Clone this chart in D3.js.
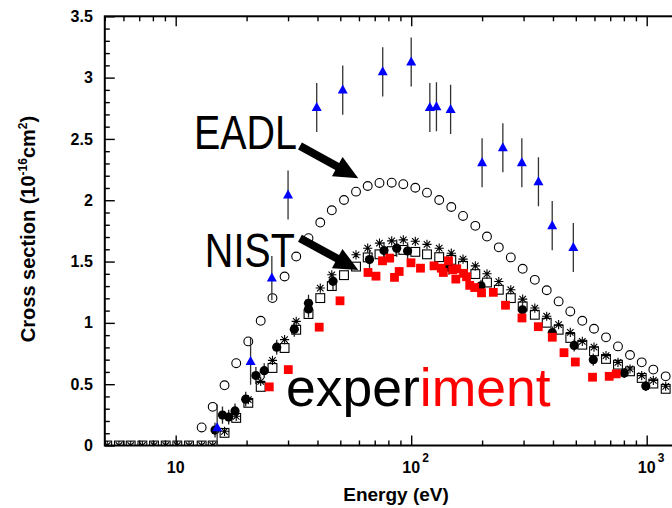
<!DOCTYPE html>
<html>
<head>
<meta charset="utf-8">
<script src="https://d3js.org/d3.v7.min.js"></script>
<style>
  body { margin: 0; background: #fff; }
  text { font-family: "Liberation Sans", Arial, Helvetica, sans-serif; }
</style>
</head>
<body>
<svg id="chart" width="672" height="508"></svg>
<script>
// EADL (open circles)
const eadlE = [12.89, 14.36, 16.12, 18.07, 20.34, 22.96, 25.76, 29.0, 32.49, 36.64, 41.11, 46.01, 51.84, 58.31,
  65.36, 73.34, 82.64, 92.58, 104.1, 116.7, 131.5, 148.0, 166.0, 187.2, 209.8, 235.5, 264.8, 297.4, 334.9,
  376.2, 422.7, 473.8, 532.8, 597.4, 671.8, 755.2, 849.4, 952.4, 1067, 1204];
const eadlV = [0.147, 0.315, 0.491, 0.671, 0.849, 1.017, 1.202, 1.378, 1.541, 1.691, 1.818, 1.918, 2.002, 2.070,
  2.116, 2.141, 2.143, 2.131, 2.102, 2.062, 2.002, 1.945, 1.872, 1.791, 1.704, 1.616, 1.534, 1.441, 1.351,
  1.266, 1.175, 1.093, 1.017, 0.952, 0.882, 0.808, 0.738, 0.678, 0.619, 0.564];

// NIST grid (open squares + asterisks)
const nistE = [5.12, 5.74, 6.44, 7.22, 8.09, 9.07, 10.16, 11.39, 12.89, 14.36, 16.12, 18.07, 20.34, 22.96, 25.76,
  29.0, 32.49, 36.64, 41.11, 46.01, 51.84, 58.31, 65.36, 73.34, 82.64, 92.58, 104.1, 116.7, 131.5, 148.0, 166.0,
  187.2, 209.8, 235.5, 264.8, 297.4, 334.9, 376.2, 422.7, 473.8, 532.8, 597.4, 671.8, 755.2, 849.4, 952.4, 1067, 1204];
const squareV = [0, 0, 0, 0, 0, 0, 0, 0, 0, 0, 0.103, 0.225, 0.348, 0.478, 0.632, 0.795, 0.944, 1.072, 1.202, 1.300,
  1.389, 1.459, 1.534, 1.559, 1.585, 1.595, 1.579, 1.559, 1.536, 1.514, 1.465, 1.398, 1.329, 1.270, 1.202, 1.134,
  1.066, 1.001, 0.944, 0.877, 0.822, 0.768, 0.706, 0.659, 0.605, 0.551, 0.505, 0.462];
const starV = [0, 0, 0, 0, 0, 0, 0, 0, 0, 0, 0.116, 0.238, 0.374, 0.523, 0.694, 0.863, 1.012, 1.161, 1.284, 1.392,
  1.481, 1.555, 1.609, 1.650, 1.669, 1.677, 1.665, 1.640, 1.609, 1.568, 1.520, 1.465, 1.400, 1.337, 1.270, 1.194,
  1.121, 1.054, 0.985, 0.922, 0.849, 0.803, 0.733, 0.678, 0.624, 0.570, 0.531, 0.483];

// filled circles with error bars
const dotE = [14.69, 15.8, 16.79, 17.86, 19.83, 21.91, 23.76, 26.85, 31.89, 36.64, 36.64, 46.55, 66.51, 76.65,
  86.78, 96.55, 144.7, 197.9, 296.9, 397.3, 492.2, 593.2, 802.8, 991.3];
const dotV = [0.126, 0.248, 0.232, 0.282, 0.378, 0.571, 0.610, 0.802, 0.947, 1.160, 1.113, 1.339, 1.516, 1.590,
  1.609, 1.586, 1.453, 1.302, 1.107, 0.920, 0.816, 0.700, 0.591, 0.485];
const dotErr = [0.06, 0.07, 0.06, 0.06, 0.06, 0.07, 0.06, 0.06, 0.06, 0.07, 0.07, 0.07, 0.08, 0.07,
  0.07, 0.07, 0.06, 0.05, 0.05, 0.05, 0.05, 0.05, 0.04, 0.04];

// experiment (red squares)
const expE = [24.97, 30.07, 40.68, 49.86, 65.55, 70.88, 75.52, 81.04, 84.93, 88.92, 99.8, 109.5, 125.0, 134.2,
  136.9, 144.0, 150.1, 156.1, 154.7, 166.8, 171.8, 177.2, 186.1, 198.9, 223.2, 251.4, 295.4, 346.5, 397.3,
  445.5, 497.6, 588.8, 693.1, 742.6];
const expV = [0.478, 0.619, 0.965, 1.180, 1.411, 1.381, 1.506, 1.528, 1.371, 1.419, 1.490, 1.446, 1.465, 1.446,
  1.411, 1.506, 1.433, 1.441, 1.357, 1.404, 1.376, 1.306, 1.288, 1.245, 1.249, 1.144, 1.040, 0.969, 0.883,
  0.757, 0.681, 0.557, 0.564, 0.584];

// blue triangles with error bars
const triE = [15.0, 20.8, 25.6, 30.0, 39.7, 51.2, 75.7, 100, 120, 128, 147, 200, 245, 295, 347, 397, 488];
const triV = [0.144, 0.686, 1.365, 2.043, 2.757, 2.898, 3.047, 3.128, 2.757, 2.762, 2.741, 2.306, 2.428, 2.306,
  2.151, 1.793, 1.614];
const triErr = [0.19, 0.19, 0.18, 0.2, 0.2, 0.2, 0.2, 0.2, 0.2, 0.2, 0.2, 0.2, 0.2, 0.2, 0.2, 0.2, 0.2];

// ticks
const xMajorTicks = [10, 100, 1000];
const xMajorExp = ["", "2", "3"];
const xMinorTicks = [5, 6, 7, 8, 9, 20, 30, 40, 50, 60, 70, 80, 90, 200, 300, 400, 500, 600, 700, 800, 900];
const yMajorTicks = [0, 0.5, 1, 1.5, 2, 2.5, 3, 3.5];
const yTickLabels = ["0", "0.5", "1", "1.5", "2", "2.5", "3", "3.5"];

const svg = d3.select("#chart");
const plotLeft = 104.8, plotTop = 16.3, plotBottom = 445.5, plotRight = 690;

const x = d3.scaleLog().domain([5, 1000]).range([plotLeft, 646.7]);
const y = d3.scaleLinear().domain([0, 3.5]).range([plotBottom, plotTop]);

svg.append("defs").append("clipPath").attr("id", "clip")
  .append("rect").attr("x", plotLeft).attr("y", plotTop)
  .attr("width", plotRight - plotLeft).attr("height", plotBottom - plotTop);

// axes (ticks inside the frame)
function styleAxis(g) {
  g.select(".domain").remove();
  g.selectAll(".tick line").attr("stroke", "#000").attr("stroke-width", 1.4);
}
svg.append("g").attr("transform", `translate(0,${plotBottom})`)
  .call(d3.axisBottom(x).tickValues(xMajorTicks).tickSize(-10).tickFormat("")).call(styleAxis);
svg.append("g").attr("transform", `translate(0,${plotBottom})`)
  .call(d3.axisBottom(x).tickValues(xMinorTicks).tickSize(-5).tickFormat("")).call(styleAxis);
svg.append("g").attr("transform", `translate(0,${plotTop})`)
  .call(d3.axisTop(x).tickValues(xMajorTicks).tickSize(-10).tickFormat("")).call(styleAxis);
svg.append("g").attr("transform", `translate(0,${plotTop})`)
  .call(d3.axisTop(x).tickValues(xMinorTicks).tickSize(-5).tickFormat("")).call(styleAxis);

svg.append("g").attr("transform", `translate(${plotLeft},0)`)
  .call(d3.axisLeft(y).tickValues(yMajorTicks).tickSize(-10).tickPadding(12)
    .tickFormat((d, i) => yTickLabels[i]))
  .call(styleAxis)
  .call(g => g.selectAll("text").attr("fill", "#000").style("font-size", "16px").style("font-weight", "bold")
    .style("font-family", '"Liberation Sans", Arial, sans-serif'));
svg.append("g").attr("transform", `translate(${plotLeft},0)`)
  .call(d3.axisLeft(y).tickValues(y.ticks(35).filter(t => Math.round(t * 10) % 5 !== 0)).tickSize(-5).tickFormat(""))
  .call(styleAxis);

// frame
svg.append("rect").attr("x", plotLeft).attr("y", plotTop)
  .attr("width", plotRight - plotLeft).attr("height", plotBottom - plotTop)
  .attr("fill", "none").attr("stroke", "#000").attr("stroke-width", 2);

// x tick labels: 10, 10^2, 10^3
const xl = svg.append("g").attr("font-weight", "bold").attr("fill", "#000");
xMajorTicks.forEach((t, i) => {
  xl.append("text").attr("x", x(t)).attr("y", 473.3).attr("text-anchor", "middle")
    .style("font-size", "16px").text("10");
  if (xMajorExp[i]) {
    xl.append("text").attr("x", x(t) + 11).attr("y", 462).style("font-size", "12px").text(xMajorExp[i]);
  }
});

// axis titles
svg.append("text").attr("x", 396).attr("y", 501).attr("text-anchor", "middle")
  .style("font-size", "19px").style("font-weight", "bold").text("Energy (eV)");
const yt = svg.append("text").attr("transform", "translate(34.5,229) rotate(-90)").attr("text-anchor", "middle")
  .style("font-size", "20px").style("font-weight", "bold");
yt.append("tspan").text("Cross section (10");
yt.append("tspan").attr("dy", -8).style("font-size", "12px").text("-16");
yt.append("tspan").attr("dy", 8).text("cm");
yt.append("tspan").attr("dy", -8).style("font-size", "12px").text("2");
yt.append("tspan").attr("dy", 8).text(")");

// markers
const plot = svg.append("g").attr("clip-path", "url(#clip)");

plot.append("g").selectAll("circle").data(d3.zip(eadlE, eadlV)).join("circle")
  .attr("cx", d => x(d[0])).attr("cy", d => y(d[1])).attr("r", 4.4)
  .attr("fill", "none").attr("stroke", "#000").attr("stroke-width", 1.1);

plot.append("g").selectAll("rect").data(d3.zip(nistE, squareV)).join("rect")
  .attr("x", d => x(d[0]) - 4.4).attr("y", d => y(d[1]) - 4.4).attr("width", 8.8).attr("height", 8.8)
  .attr("fill", "none").attr("stroke", "#000").attr("stroke-width", 1.1);

const s = 4.6, a = s * 0.707;
const star = `M${-s},0H${s}M0,${-s}V${s}M${-a},${-a}L${a},${a}M${-a},${a}L${a},${-a}`;
plot.append("g").selectAll("path").data(d3.zip(nistE, starV)).join("path")
  .attr("transform", d => `translate(${x(d[0])},${y(d[1])})`).attr("d", star)
  .attr("fill", "none").attr("stroke", "#000").attr("stroke-width", 1.1);

const dots = d3.zip(dotE, dotV, dotErr);
plot.append("g").selectAll("line").data(dots).join("line")
  .attr("x1", d => x(d[0])).attr("x2", d => x(d[0]))
  .attr("y1", d => y(d[1] - d[2])).attr("y2", d => y(d[1] + d[2]))
  .attr("stroke", "#222").attr("stroke-width", 1.3);
plot.append("g").selectAll("circle").data(dots).join("circle")
  .attr("cx", d => x(d[0])).attr("cy", d => y(d[1])).attr("r", 4.6).attr("fill", "#000");

plot.append("g").selectAll("rect").data(d3.zip(expE, expV)).join("rect")
  .attr("x", d => x(d[0]) - 4.4).attr("y", d => y(d[1]) - 4.4).attr("width", 8.8).attr("height", 8.8)
  .attr("fill", "#ff0000");

const tris = d3.zip(triE, triV, triErr);
plot.append("g").selectAll("line").data(tris).join("line")
  .attr("x1", d => x(d[0])).attr("x2", d => x(d[0]))
  .attr("y1", d => y(d[1] - d[2])).attr("y2", d => y(d[1] + d[2]))
  .attr("stroke", "#333").attr("stroke-width", 1.3);
plot.append("g").selectAll("path").data(tris).join("path")
  .attr("transform", d => `translate(${x(d[0])},${y(d[1])})`)
  .attr("d", "M0,-5.5L5,3.5L-5,3.5Z").attr("fill", "#0000ff");

// annotations
svg.append("text").attr("x", x(11.96)).attr("y", y(2.416)).attr("textLength", 103)
  .attr("lengthAdjust", "spacingAndGlyphs").style("font-size", "47.5px").text("EADL");
svg.append("text").attr("x", x(13.3)).attr("y", y(1.458)).attr("textLength", 90)
  .attr("lengthAdjust", "spacingAndGlyphs").style("font-size", "48px").text("NIST");

const arrows = [
  { from: [33.7, 2.443], to: [59.6, 2.18] },
  { from: [33.7, 1.69], to: [59.6, 1.431] }
];
arrows.forEach(ar => {
  const x0 = x(ar.from[0]), y0 = y(ar.from[1]), x1 = x(ar.to[0]), y1 = y(ar.to[1]);
  const len = Math.hypot(x1 - x0, y1 - y0), ux = (x1 - x0) / len, uy = (y1 - y0) / len;
  const px = -uy, py = ux, hw = 4, hl = 24, hh = 11;
  const bx = x1 - ux * hl, by = y1 - uy * hl;
  const pts = [
    [x0 + px * hw, y0 + py * hw], [bx + px * hw, by + py * hw], [bx + px * hh, by + py * hh],
    [x1, y1], [bx - px * hh, by - py * hh], [bx - px * hw, by - py * hw], [x0 - px * hw, y0 - py * hw]
  ];
  svg.append("path").attr("d", d3.line()(pts) + "Z").attr("fill", "#000");
});

const ex = svg.append("text").attr("x", x(29.4)).attr("y", y(0.322)).style("font-size", "53.5px");
ex.append("tspan").attr("fill", "#000").text("exper");
ex.append("tspan").attr("fill", "#ff0000").text("iment");
</script>
</body>
</html>
